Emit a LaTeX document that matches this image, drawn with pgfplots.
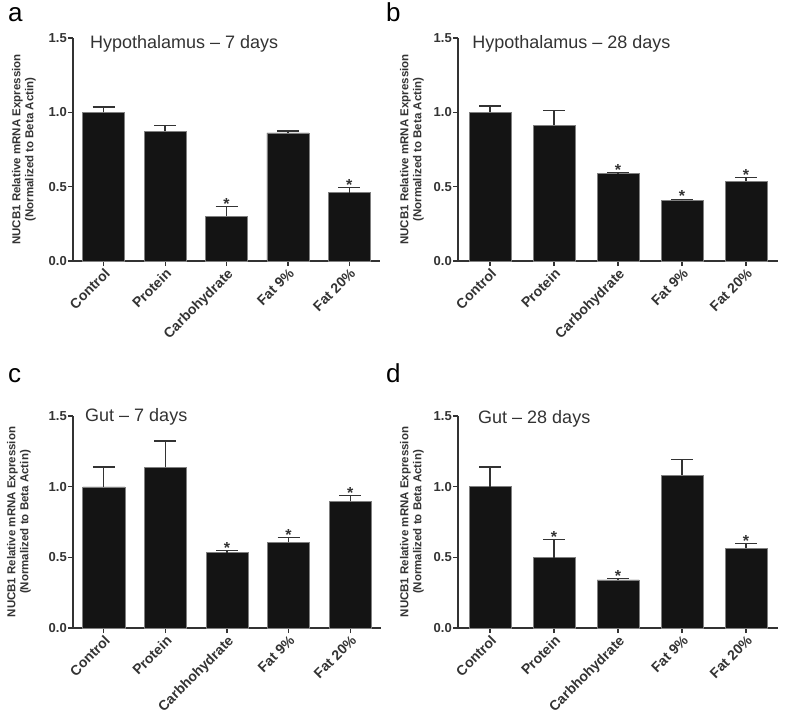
\documentclass[border=0pt]{standalone}
\usepackage{pgfplots}
\pgfplotsset{compat=1.18}
\usepackage{fontspec}
\setmainfont{Liberation Sans}
\definecolor{barfill}{HTML}{141414}
\definecolor{axcol}{HTML}{333333}
\pgfplotsset{
  panel/.style={
    scale only axis,
    axis lines*=left,
    xmin=-0.5, xmax=4.5, ymin=0, ymax=1.5,
    xtick={0,1,2,3,4},
    ytick={0,0.5,1,1.5},
    /pgf/number format/assume math mode=true,
    yticklabel style={/pgf/number format/fixed, /pgf/number format/fixed zerofill, /pgf/number format/precision=1},
    yticklabel style={font=\fontsize{13}{15}\selectfont\bfseries, text=axcol, inner sep=1pt},
    xticklabel style={font=\fontsize{14}{16}\selectfont\bfseries, text=axcol, rotate=45, anchor=north east, inner sep=1pt},
    tick align=outside,
    major tick length=5pt,
    tick style={line width=1.2pt, axcol},
    axis line style={line width=1.3pt, axcol},
    ylabel={NUCB1 Relative mRNA Expression\\(Normalized to Beta Actin)},
    ylabel style={font=\fontsize{11.5}{13}\selectfont\bfseries, align=center, text=axcol},
    title style={font=\fontsize{18}{20}\selectfont, text=axcol, anchor=north west, inner sep=0pt},
    clip=false,
  },
  bars/.style={ybar, bar width=42pt, fill=barfill, draw=black!50, line width=0.6pt,
    error bars/.cd, y dir=plus, y explicit, error mark=|,
    error bar style={line width=1.3pt, axcol},
    error mark options={line width=1.3pt, axcol, mark size=11pt}},
  stars/.style={draw=none, mark=none, nodes near coords={*},
    nodes near coords style={font=\fontsize{16}{16}\selectfont\bfseries, anchor=south, inner sep=0pt, yshift=-3pt, text=axcol}},
}
\begin{document}
\begin{tikzpicture}[x=1pt,y=1pt]
\useasboundingbox (0,0) rectangle (787,716);
\node[anchor=base west, inner sep=0pt, font=\fontsize{26}{28}\selectfont] at (8,694) {a};
\node[anchor=base west, inner sep=0pt, font=\fontsize{26}{28}\selectfont] at (386,694) {b};
\node[anchor=base west, inner sep=0pt, font=\fontsize{26}{28}\selectfont] at (8,334) {c};
\node[anchor=base west, inner sep=0pt, font=\fontsize{26}{28}\selectfont] at (386,334) {d};

% panel a
\begin{axis}[panel, at={(73pt,455pt)}, anchor=south west, width=307pt, height=223pt,
  xticklabels={Control,Protein,Carbohydrate,Fat 9\%,Fat 20\%},
  ylabel style={at={([xshift=-49pt]axis description cs:0,0.5)}, anchor=center},
  title={Hypothalamus -- 7 days}, title style={at={(axis description cs:0.055,0.985)}}]
\addplot[bars] table[x=x, y=y, y error=e] {
x y e
0 1.000 0.036
1 0.873 0.040
2 0.302 0.063
3 0.862 0.013
4 0.459 0.036
};
\addplot[stars] coordinates {(2,0.365) (4,0.495)};
\end{axis}

% panel b
\begin{axis}[panel, at={(458pt,455pt)}, anchor=south west, width=320pt, height=223pt,
  xticklabels={Control,Protein,Carbohydrate,Fat 9\%,Fat 20\%},
  ylabel style={at={([xshift=-46pt]axis description cs:0,0.5)}, anchor=center},
  title={Hypothalamus -- 28 days}, title style={at={(axis description cs:0.044,0.985)}}]
\addplot[bars] table[x=x, y=y, y error=e] {
x y e
0 1.000 0.043
1 0.913 0.097
2 0.589 0.006
3 0.408 0.008
4 0.537 0.023
};
\addplot[stars] coordinates {(2,0.595) (3,0.416) (4,0.560)};
\end{axis}

% panel c
\begin{axis}[panel, at={(73pt,88pt)}, anchor=south west, width=308pt, height=212pt,
  xticklabels={Control,Protein,Carbhohydrate,Fat 9\%,Fat 20\%},
  ylabel style={at={([xshift=-54pt]axis description cs:0,0.5)}, anchor=center},
  title={Gut -- 7 days}, title style={at={(axis description cs:0.039,1.01)}}]
\addplot[bars] table[x=x, y=y, y error=e] {
x y e
0 0.999 0.140
1 1.136 0.187
2 0.534 0.012
3 0.605 0.035
4 0.898 0.040
};
\addplot[stars] coordinates {(2,0.546) (3,0.640) (4,0.938)};
\end{axis}

% panel d
\begin{axis}[panel, at={(458pt,88pt)}, anchor=south west, width=320pt, height=212pt,
  xticklabels={Control,Protein,Carbhohydrate,Fat 9\%,Fat 20\%},
  ylabel style={at={([xshift=-46pt]axis description cs:0,0.5)}, anchor=center},
  title={Gut -- 28 days}, title style={at={(axis description cs:0.0625,1.0)}}]
\addplot[bars] table[x=x, y=y, y error=e] {
x y e
0 1.000 0.139
1 0.498 0.126
2 0.340 0.010
3 1.082 0.108
4 0.565 0.033
};
\addplot[stars] coordinates {(1,0.624) (2,0.350) (4,0.598)};
\end{axis}
\end{tikzpicture}
\end{document}
